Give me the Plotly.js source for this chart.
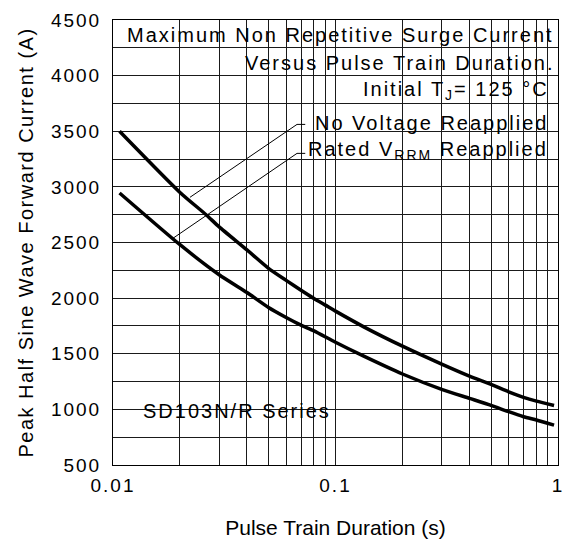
<!DOCTYPE html>
<html>
<head>
<meta charset="utf-8">
<script src="https://cdn.plot.ly/plotly-3.0.1.min.js"></script>
<style>
  html, body { margin: 0; padding: 0; background: #fff; }
  .xtick text, .ytick text { letter-spacing: 2px; }
  .ytitle { letter-spacing: 1.5px; }
  .annotation-text { letter-spacing: 2px; }
</style>
</head>
<body>
<div id="chart" style="width:572px;height:539px;"></div>
<script>
// ---- Data ----
const durationNoVoltage = [0.0107, 0.02, 0.0262, 0.03, 0.04, 0.05, 0.06, 0.07, 0.08, 0.09, 0.1, 0.134, 0.2, 0.3, 0.4, 0.5, 0.6, 0.7, 0.8, 0.96];
const currentNoVoltage  = [3500, 2950, 2750, 2640, 2433, 2268, 2160, 2071, 1997, 1937, 1883, 1742, 1568, 1407, 1299, 1224, 1158, 1108, 1074, 1035];

const durationRated = [0.0107, 0.02, 0.03, 0.04, 0.05, 0.06, 0.07, 0.08, 0.1, 0.134, 0.2, 0.3, 0.4, 0.5, 0.6, 0.7, 0.8, 0.96];
const currentRated  = [2945, 2480, 2210, 2050, 1916, 1826, 1757, 1706, 1603, 1478, 1318, 1180, 1099, 1036, 979, 934, 904, 859];

const xMajorTicks = [0.01, 0.1, 1];
const xMajorLabels = ['0.01', '0.1', '1'];
const xMinorGrid = [0.02,0.03,0.04,0.05,0.06,0.07,0.08,0.09,0.2,0.3,0.4,0.5,0.6,0.7,0.8,0.9];
const yRange = [500, 4500];
const yMajorStep = 500;
const yMinorStep = 250;

const titleLines = [
  'Maximum Non Repetitive Surge Current',
  'Versus Pulse Train Duration.',
  'Initial T<sub>J</sub>= 125 °C'
];
const seriesLabels = ['No Voltage Reapplied', 'Rated V<sub>RRM</sub> Reapplied'];
const deviceLabel = 'SD103N/R Series';

const FONT = 'Liberation Sans, Arial, sans-serif';

const traces = [
  { x: durationNoVoltage, y: currentNoVoltage, mode: 'lines', name: seriesLabels[0],
    line: { color: '#000', width: 3.5, shape: 'spline', smoothing: 0.6 }, hoverinfo: 'x+y' },
  { x: durationRated, y: currentRated, mode: 'lines', name: 'Rated VRRM Reapplied',
    line: { color: '#000', width: 3.5, shape: 'spline', smoothing: 0.6 }, hoverinfo: 'x+y' }
];

function box(x0, x1, y0, y1) {
  return { type: 'rect', xref: 'paper', yref: 'paper', x0: x0, x1: x1, y0: y0, y1: y1,
           fillcolor: '#fff', line: { width: 0 }, layer: 'between' };
}
function seg(x0, y0, x1, y1) {
  return { type: 'line', xref: 'paper', yref: 'paper', x0: x0, y0: y0, x1: x1, y1: y1,
           line: { color: '#000', width: 1 }, layer: 'above' };
}

const shapes = [
  box(0.0315, 0.997, 0.9315, 0.998),
  box(0.3416, 0.997, 0.8687, 0.9315),
  box(0.436, 0.997, 0.8080, 0.8687),
  box(0.4135, 0.977, 0.6734, 0.8080),
  box(0.0629, 0.4517, 0.0875, 0.1504),
  seg(0.173, 0.6016, 0.4135, 0.7654),
  seg(0.4135, 0.7654, 0.432, 0.7654),
  seg(0.1348, 0.5095, 0.4135, 0.7003),
  seg(0.4135, 0.7003, 0.432, 0.7003)
];

function ann(text, x, y, xanchor) {
  return { text: text, xref: 'paper', yref: 'paper', x: x, y: y, xanchor: xanchor, yanchor: 'middle',
           showarrow: false, font: { family: FONT, size: 20, color: '#000' } };
}

const annotations = [
  ann(titleLines[0], 0.995, 0.9663, 'right'),
  ann(titleLines[1], 0.995, 0.9024, 'right'),
  ann(titleLines[2], 0.985, 0.8418, 'right'),
  ann(seriesLabels[0], 0.982, 0.7688, 'right'),
  ann(seriesLabels[1], 0.982, 0.7059, 'right'),
  ann(deviceLabel, 0.063, 0.1212, 'left')
];

const GRID = '#1a1a1a';

const layout = {
  width: 572, height: 539,
  margin: { l: 113, r: 14, t: 20, b: 74 },
  paper_bgcolor: '#fff', plot_bgcolor: '#fff',
  showlegend: false,
  font: { family: FONT, color: '#000', size: 19 },
  xaxis: {
    type: 'log', range: [-2, 0],
    tickmode: 'array', tickvals: xMajorTicks, ticktext: xMajorLabels,
    showgrid: true, gridcolor: GRID, gridwidth: 1,
    minor: { tickmode: 'array', tickvals: xMinorGrid, showgrid: true, gridcolor: GRID, gridwidth: 1, ticks: '' },
    showline: true, linecolor: '#000', linewidth: 1, mirror: true,
    ticks: '', ticklabelstandoff: 3,
    zeroline: false,
    tickfont: { family: FONT, size: 19, color: '#000' },
    title: { text: 'Pulse Train Duration (s)', font: { family: FONT, size: 21, color: '#000' }, standoff: 26 }
  },
  yaxis: {
    range: yRange,
    tickmode: 'linear', tick0: yRange[0], dtick: yMajorStep,
    showgrid: true, gridcolor: GRID, gridwidth: 1,
    minor: { tickmode: 'linear', tick0: yRange[0], dtick: yMinorStep, showgrid: true, gridcolor: GRID, gridwidth: 1, ticks: '' },
    showline: true, linecolor: '#000', linewidth: 1, mirror: true,
    ticks: '', ticklabelstandoff: 7,
    zeroline: false,
    tickfont: { family: FONT, size: 19, color: '#000' },
    title: { text: 'Peak Half Sine Wave Forward Current (A)', font: { family: FONT, size: 20, color: '#000' }, standoff: 11 }
  },
  shapes: shapes,
  annotations: annotations
};

Plotly.newPlot('chart', traces, layout, { displayModeBar: false, staticPlot: true });
</script>
</body>
</html>
